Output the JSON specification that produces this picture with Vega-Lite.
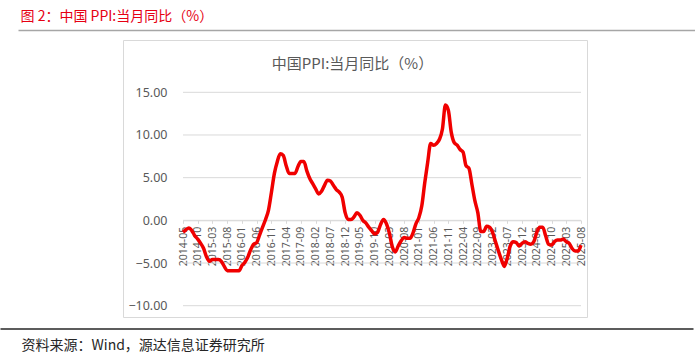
{
  "$schema": "https://vega.github.io/schema/vega-lite/v6.json",
  "width": 464,
  "height": 277,
  "autosize": "none",
  "padding": {"left": 123, "top": 40, "right": 108, "bottom": 38},
  "background": "white",
  "config": {"view": {"stroke": "#d9d9d9", "strokeWidth": 1}, "font": "Noto Sans"},
  "resolve": {"scale": {"x": "independent"}, "axis": {"x": "independent"}},
  "layer": [
    {
      "data": {"values": [{"g": -10}, {"g": -5}, {"g": 0}, {"g": 5}, {"g": 10}, {"g": 15}]},
      "mark": {"type": "rule", "color": "#d9d9d9", "strokeWidth": 1},
      "encoding": {
        "x": {"datum": "2014-05", "type": "ordinal", "scale": {"type": "point", "range": [60, 458], "padding": 0}, "axis": null},
        "x2": {"datum": "2025-08"},
        "y": {
          "field": "g", "type": "quantitative",
          "scale": {"domain": [-10, 15], "range": [265.7, 52.3], "nice": false, "zero": false},
          "axis": {
            "orient": "left", "offset": -46, "values": [-10, -5, 0, 5, 10, 15], "format": ".2f",
            "domain": false, "ticks": false, "grid": false, "labelPadding": 2,
            "labelFontSize": 12.5, "labelColor": "#595959",
            "title": "中国PPI:当月同比（%）", "titleAngle": 0, "titleX": 183, "titleY": 23,
            "titleAlign": "center", "titleBaseline": "middle", "titleFontSize": 15,
            "titleFontWeight": "normal", "titleColor": "#595959", "titleFont": "Noto Sans CJK SC"
          }
        }
      }
    },
    {
      "data": {"values": [
        {"m": "2014-05", "v": -1.4}, {"m": "2014-06", "v": -1.1}, {"m": "2014-07", "v": -0.9}, {"m": "2014-08", "v": -1.2},
        {"m": "2014-09", "v": -1.8}, {"m": "2014-10", "v": -2.2}, {"m": "2014-11", "v": -2.7}, {"m": "2014-12", "v": -3.3},
        {"m": "2015-01", "v": -4.3}, {"m": "2015-02", "v": -4.8}, {"m": "2015-03", "v": -4.6}, {"m": "2015-04", "v": -4.6},
        {"m": "2015-05", "v": -4.6}, {"m": "2015-06", "v": -4.8}, {"m": "2015-07", "v": -5.4}, {"m": "2015-08", "v": -5.9},
        {"m": "2015-09", "v": -5.9}, {"m": "2015-10", "v": -5.9}, {"m": "2015-11", "v": -5.9}, {"m": "2015-12", "v": -5.9},
        {"m": "2016-01", "v": -5.3}, {"m": "2016-02", "v": -4.9}, {"m": "2016-03", "v": -4.3}, {"m": "2016-04", "v": -3.4},
        {"m": "2016-05", "v": -2.8}, {"m": "2016-06", "v": -2.6}, {"m": "2016-07", "v": -1.7}, {"m": "2016-08", "v": -0.8},
        {"m": "2016-09", "v": 0.1}, {"m": "2016-10", "v": 1.2}, {"m": "2016-11", "v": 3.3}, {"m": "2016-12", "v": 5.5},
        {"m": "2017-01", "v": 6.9}, {"m": "2017-02", "v": 7.8}, {"m": "2017-03", "v": 7.6}, {"m": "2017-04", "v": 6.4},
        {"m": "2017-05", "v": 5.5}, {"m": "2017-06", "v": 5.5}, {"m": "2017-07", "v": 5.5}, {"m": "2017-08", "v": 6.3},
        {"m": "2017-09", "v": 6.9}, {"m": "2017-10", "v": 6.9}, {"m": "2017-11", "v": 5.8}, {"m": "2017-12", "v": 4.9},
        {"m": "2018-01", "v": 4.3}, {"m": "2018-02", "v": 3.7}, {"m": "2018-03", "v": 3.1}, {"m": "2018-04", "v": 3.4},
        {"m": "2018-05", "v": 4.1}, {"m": "2018-06", "v": 4.7}, {"m": "2018-07", "v": 4.6}, {"m": "2018-08", "v": 4.1},
        {"m": "2018-09", "v": 3.6}, {"m": "2018-10", "v": 3.3}, {"m": "2018-11", "v": 2.7}, {"m": "2018-12", "v": 0.9},
        {"m": "2019-01", "v": 0.1}, {"m": "2019-02", "v": 0.1}, {"m": "2019-03", "v": 0.4}, {"m": "2019-04", "v": 0.9},
        {"m": "2019-05", "v": 0.6}, {"m": "2019-06", "v": 0.0}, {"m": "2019-07", "v": -0.3}, {"m": "2019-08", "v": -0.8},
        {"m": "2019-09", "v": -1.2}, {"m": "2019-10", "v": -1.6}, {"m": "2019-11", "v": -1.4}, {"m": "2019-12", "v": -0.5},
        {"m": "2020-01", "v": 0.1}, {"m": "2020-02", "v": -0.4}, {"m": "2020-03", "v": -1.5}, {"m": "2020-04", "v": -3.1},
        {"m": "2020-05", "v": -3.7}, {"m": "2020-06", "v": -3.0}, {"m": "2020-07", "v": -2.4}, {"m": "2020-08", "v": -2.0},
        {"m": "2020-09", "v": -2.1}, {"m": "2020-10", "v": -2.1}, {"m": "2020-11", "v": -1.5}, {"m": "2020-12", "v": -0.4},
        {"m": "2021-01", "v": 0.3}, {"m": "2021-02", "v": 1.7}, {"m": "2021-03", "v": 4.4}, {"m": "2021-04", "v": 6.8},
        {"m": "2021-05", "v": 9.0}, {"m": "2021-06", "v": 8.8}, {"m": "2021-07", "v": 9.0}, {"m": "2021-08", "v": 9.5},
        {"m": "2021-09", "v": 10.7}, {"m": "2021-10", "v": 13.5}, {"m": "2021-11", "v": 12.9}, {"m": "2021-12", "v": 10.3},
        {"m": "2022-01", "v": 9.1}, {"m": "2022-02", "v": 8.8}, {"m": "2022-03", "v": 8.3}, {"m": "2022-04", "v": 8.0},
        {"m": "2022-05", "v": 6.4}, {"m": "2022-06", "v": 6.1}, {"m": "2022-07", "v": 4.2}, {"m": "2022-08", "v": 2.3},
        {"m": "2022-09", "v": 0.9}, {"m": "2022-10", "v": -1.3}, {"m": "2022-11", "v": -1.3}, {"m": "2022-12", "v": -0.7},
        {"m": "2023-01", "v": -0.8}, {"m": "2023-02", "v": -1.4}, {"m": "2023-03", "v": -2.5}, {"m": "2023-04", "v": -3.6},
        {"m": "2023-05", "v": -4.6}, {"m": "2023-06", "v": -5.4}, {"m": "2023-07", "v": -4.4}, {"m": "2023-08", "v": -3.0},
        {"m": "2023-09", "v": -2.5}, {"m": "2023-10", "v": -2.6}, {"m": "2023-11", "v": -3.0}, {"m": "2023-12", "v": -2.7},
        {"m": "2024-01", "v": -2.5}, {"m": "2024-02", "v": -2.7}, {"m": "2024-03", "v": -2.8}, {"m": "2024-04", "v": -2.5},
        {"m": "2024-05", "v": -1.4}, {"m": "2024-06", "v": -0.8}, {"m": "2024-07", "v": -0.8}, {"m": "2024-08", "v": -1.8},
        {"m": "2024-09", "v": -2.8}, {"m": "2024-10", "v": -2.9}, {"m": "2024-11", "v": -2.5}, {"m": "2024-12", "v": -2.3},
        {"m": "2025-01", "v": -2.3}, {"m": "2025-02", "v": -2.2}, {"m": "2025-03", "v": -2.5}, {"m": "2025-04", "v": -2.7},
        {"m": "2025-05", "v": -3.3}, {"m": "2025-06", "v": -3.6}, {"m": "2025-07", "v": -3.6}, {"m": "2025-08", "v": -2.9}
      ]},
      "mark": {"type": "line", "color": "#f00000", "strokeWidth": 3.5, "interpolate": "monotone"},
      "encoding": {
        "x": {
          "field": "m", "type": "ordinal",
          "scale": {"type": "point", "range": [60, 458], "padding": 0},
          "axis": {
            "orient": "bottom", "offset": -96.7, "title": null, "zindex": 0,
            "values": ["2014-05", "2014-10", "2015-03", "2015-08", "2016-01", "2016-06", "2016-11", "2017-04", "2017-09", "2018-02", "2018-07", "2018-12", "2019-05", "2019-10", "2020-03", "2020-08", "2021-01", "2021-06", "2021-11", "2022-04", "2022-09", "2023-02", "2023-07", "2023-12", "2024-05", "2024-10", "2025-03", "2025-08"],
            "labelAngle": -90, "labelFontSize": 10.5, "labelColor": "#595959", "labelPadding": 3,
            "labelOverlap": false, "ticks": true, "tickSize": 3, "tickColor": "#d9d9d9",
            "domain": true, "domainColor": "#d9d9d9", "grid": false
          }
        },
        "y": {"field": "v", "type": "quantitative"}
      }
    },
    {
      "data": {"values": [{}]},
      "mark": {"type": "rule", "opacity": 0},
      "encoding": {
        "x": {
          "datum": 0, "type": "quantitative",
          "scale": {"domain": [0, 1], "range": [-105, 572]},
          "axis": {
            "orient": "top", "offset": 10, "domain": true, "domainColor": "#a6a6a6", "domainWidth": 1.5,
            "ticks": false, "labels": false, "grid": false,
            "title": "图 2：中国 PPI:当月同比（%）", "titleX": -103, "titleY": -14,
            "titleAlign": "left", "titleBaseline": "middle", "titleColor": "#e60012",
            "titleFontSize": 14, "titleFont": "Noto Sans CJK SC", "titleFontWeight": "normal"
          }
        }
      }
    },
    {
      "data": {"values": [{}]},
      "mark": {"type": "rule", "opacity": 0},
      "encoding": {
        "x": {
          "datum": 0, "type": "quantitative",
          "scale": {"domain": [0, 1], "range": [-123, 570]},
          "axis": {
            "orient": "bottom", "offset": 11.5, "domain": true, "domainColor": "#262626", "domainWidth": 1.5,
            "ticks": false, "labels": false, "grid": false,
            "title": "资料来源：Wind，源达信息证券研究所", "titleX": -102, "titleY": 16.5,
            "titleAlign": "left", "titleBaseline": "middle", "titleColor": "#262626",
            "titleFontSize": 14, "titleFont": "Noto Sans CJK SC", "titleFontWeight": "normal"
          }
        }
      }
    }
  ]
}
